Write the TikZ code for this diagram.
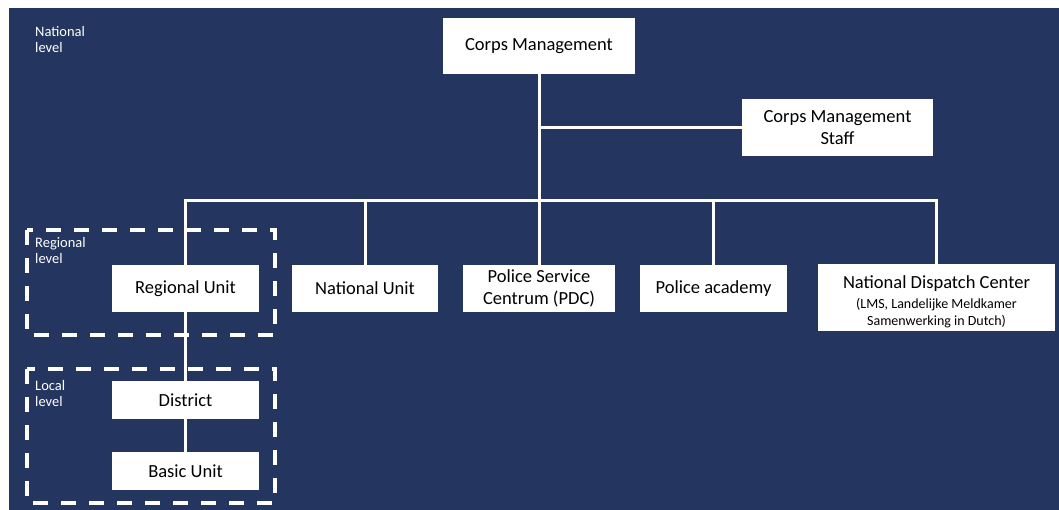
\documentclass[tikz,border=0pt]{standalone}
\usepackage{fontspec}
\setmainfont{Carlito}
\definecolor{navy}{RGB}{36,54,96}
\begin{document}
\begin{tikzpicture}[x=1pt,y=-1pt,
  box/.style={fill=white, inner sep=0pt, align=center, text=black, font=\fontsize{18.5}{22.5}\selectfont},
  conn/.style={draw=white, line width=3pt},
  lvl/.style={draw=white, line width=3.5pt, dash pattern=on 15pt off 13pt},
  lbl/.style={text=white, anchor=north west, inner sep=0pt, align=left, font=\fontsize{14.5}{16.5}\selectfont}]
\useasboundingbox[fill=white] (0,0) rectangle (1059,510);
\fill[navy] (9,8) rectangle (1059,510);
% boxes
\node[box, minimum width=192pt, minimum height=56pt] (cm) at (539,46) {Corps Management};
\node[box, minimum width=191pt, minimum height=57pt] (staff) at (837.5,127.5) {Corps Management\\Staff};
\node[box, minimum width=147pt, minimum height=47pt] (ru) at (185.5,288.5) {Regional Unit};
\node[box, minimum width=146pt, minimum height=47pt] (nu) at (365,288.5) {National Unit};
\node[box, minimum width=152pt, minimum height=47pt] (pdc) at (539,288.5) {Police Service\\Centrum (PDC)};
\node[box, minimum width=147pt, minimum height=47pt] (pa) at (713.5,288.5) {Police academy};
\node[box, minimum width=237pt, minimum height=67pt] (ndc) at (936.5,297.5) {\rule{0pt}{21pt}National Dispatch Center\\[-3pt]\fontsize{14}{17}\selectfont (LMS, Landelijke Meldkamer\\[-5.5pt]\fontsize{14}{17}\selectfont Samenwerking in Dutch)};
\node[box, minimum width=147pt, minimum height=38pt] (dist) at (185.5,400) {District};
\node[box, minimum width=147pt, minimum height=38pt] (basic) at (185.5,471) {Basic Unit};
% connectors
\coordinate (bar) at (540,201);
\draw[conn] (cm.south) -- (cm.south |- bar);
\draw[conn] (cm.south |- staff.west) -- (staff.west);
\draw[conn] (ru.north) |- (bar) -| (ndc.north);
\draw[conn] (nu.north) -- (nu.north |- bar);
\draw[conn] (pdc.north) -- (pdc.north |- bar);
\draw[conn] (pa.north) -- (pa.north |- bar);
\draw[conn] (ru.south) -- (dist.north);
\draw[conn] (dist.south) -- (basic.north);
% level frames
\draw[lvl] (27,230) rectangle (275,335);
\draw[lvl] (27,369) rectangle (275,503);
% level labels
\node[lbl] (natl) at (35,26) {National\\level};
\node[lbl] (regl) at (35,237) {Regional\\level};
\node[lbl] (locl) at (35,380) {Local\\level};
\end{tikzpicture}
\end{document}
